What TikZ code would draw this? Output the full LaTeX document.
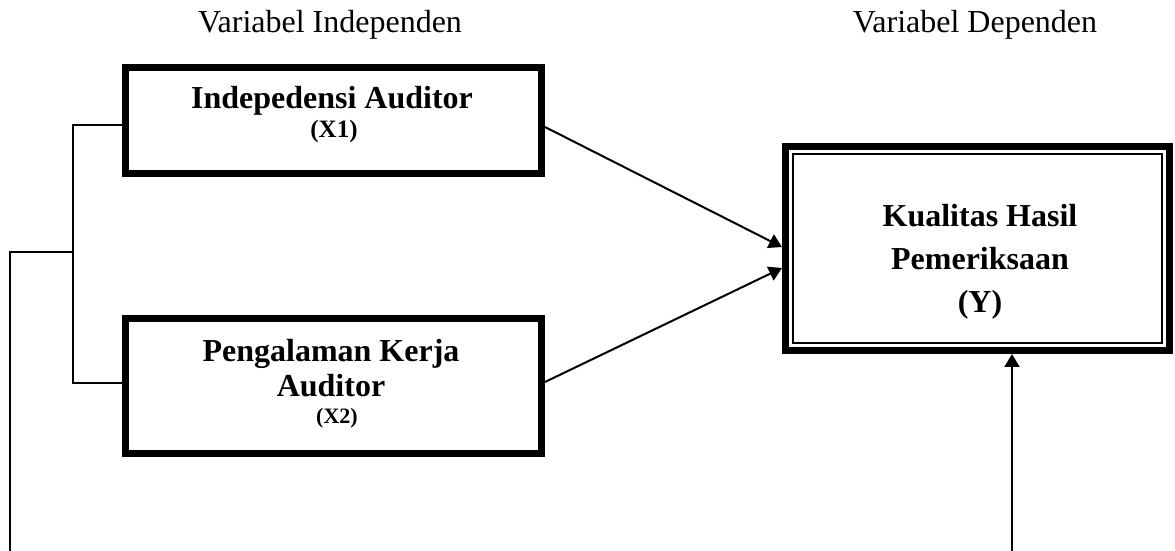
\documentclass[tikz,border=0pt]{standalone}
\usepackage{fontspec}
\setmainfont{Liberation Serif}
\usetikzlibrary{arrows.meta,calc}
\begin{document}
\begin{tikzpicture}[x=0.5pt,y=-0.5pt,
  box/.style={draw,line width=3.5pt,rectangle,inner sep=0pt},
  conn/.style={line width=1pt},
  arr/.style={conn,-{Triangle[length=6.5pt,width=7.5pt]}},
  hdr/.style={font=\fontsize{16pt}{19pt}\selectfont,anchor=base,inner sep=0pt},
  ttl/.style={font=\bfseries\fontsize{16pt}{19pt}\selectfont,anchor=base,inner sep=0pt},
  sml/.style={font=\bfseries\fontsize{12.5pt}{14pt}\selectfont},
  tiny/.style={font=\bfseries\fontsize{11pt}{13pt}\selectfont},
]
\useasboundingbox (0,0) rectangle (1175,551);
% boxes
\node[box,minimum width=208pt,minimum height=53pt] (X1) at (333.5,120.5) {};
\node[box,minimum width=208pt,minimum height=67.5pt] (X2) at (333.5,386) {};
\node[box,minimum width=192pt,minimum height=102pt] (Y) at (977.5,248.5) {};
\draw[line width=1pt] ($(Y.north west)+(11,11)$) rectangle ($(Y.south east)+(-11,-11)$);
% headers
\node[hdr] (h1) at (330,33) {Variabel Independen};
\node[hdr] (h2) at (975,33) {Variabel Dependen};
% texts
\node[ttl] (t1) at (332,109) {Indepedensi Auditor};
\node[ttl,sml] (t1b) at (334,138) {(X1)};
\node[ttl] (t2) at (331,362) {Pengalaman Kerja};
\node[ttl] (t2a) at (331,396) {Auditor};
\node[ttl,tiny] (t2b) at (337,423) {(X2)};
\node[ttl] (t3) at (980,227) {Kualitas Hasil};
\node[ttl] (t3a) at (980,270) {Pemeriksaan};
\node[ttl] (t3b) at (980,313) {(Y)};
% connectors
\coordinate (jt) at (73,125);
\coordinate (jm) at (73,252);
\coordinate (jb) at (73,383);
\coordinate (bl) at (10,551);
\coordinate (br) at (1012,551);
\draw[arr] ($(X1.east)+(0,6.5)$) -- ($(Y.west)+(0,-1.5)$);
\draw[arr] ($(X2.east)+(0,-4)$) -- ($(Y.west)+(0,19.5)$);
\draw[conn] (X1.west |- jt) -- (jt) -- (jb) -- (X2.west |- jb);
\draw[conn] (jm) -| (bl);
\draw[arr] (br) -- (br |- Y.south);
\end{tikzpicture}
\end{document}
